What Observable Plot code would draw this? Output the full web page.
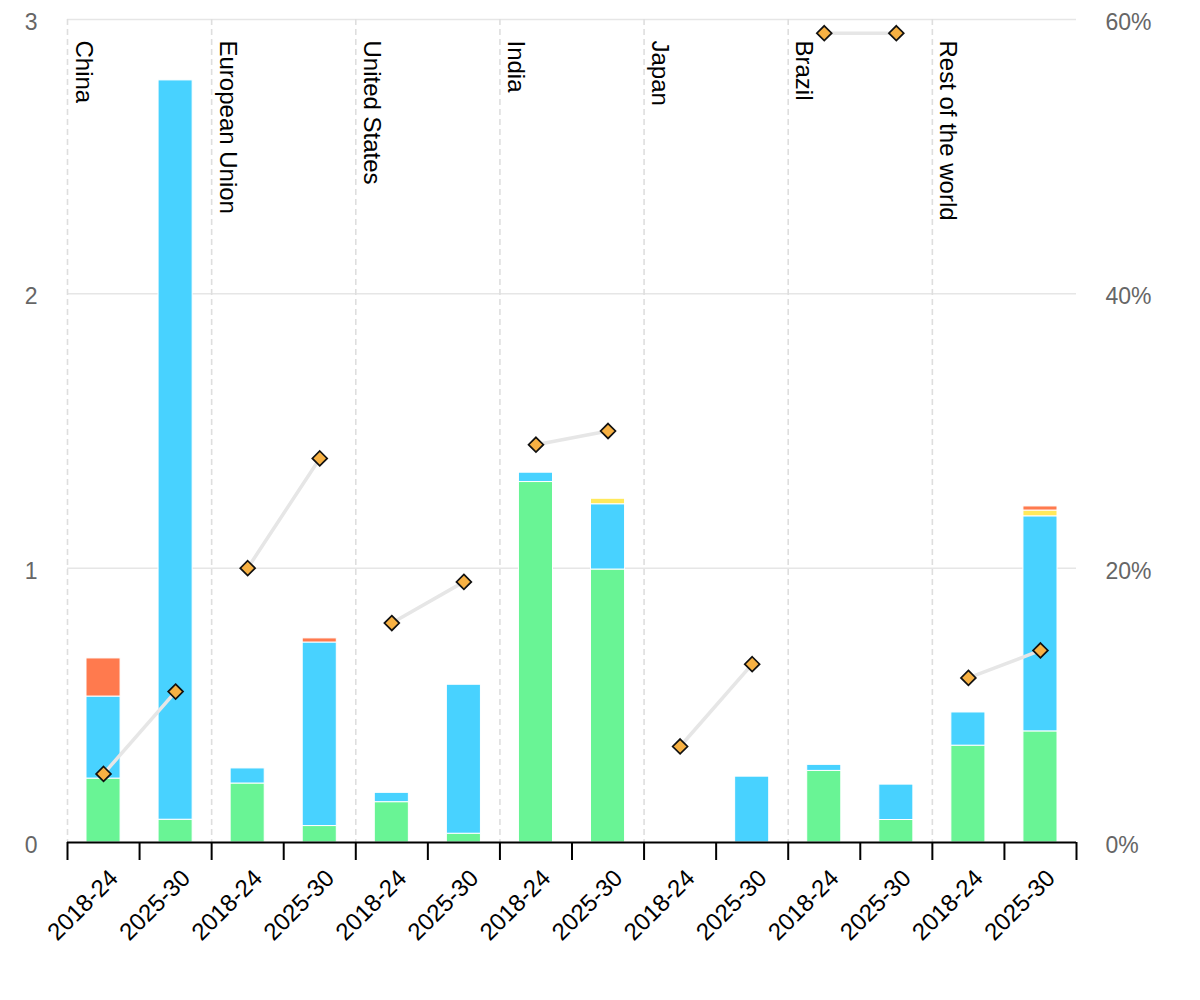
<!DOCTYPE html>
<html>
<head>
<meta charset="utf-8">
<script src="https://cdn.jsdelivr.net/npm/d3@7"></script>
<script src="https://cdn.jsdelivr.net/npm/@observablehq/plot@0.6"></script>
<style>
  html, body { margin: 0; padding: 0; background: #fff; }
  #chart { width: 1200px; height: 1000px; }
</style>
</head>
<body>
<div id="chart"></div>
<script>
// ---- data ----
const regions = ["China", "European Union", "United States", "India", "Japan", "Brazil", "Rest of the world"];
const periods = ["2018-24", "2025-30"];
const seriesNames = ["Series 1", "Series 2", "Series 3", "Series 4"];
// one value per bar: region x period, in region order
const series1 = [0.233, 0.083, 0.215, 0.060, 0.147, 0.032, 1.314, 0.995, 0, 0, 0.261, 0.082, 0.353, 0.405];
const series2 = [0.299, 2.695, 0.055, 0.669, 0.034, 0.543, 0.034, 0.238, 0, 0.240, 0.022, 0.129, 0.121, 0.784];
const series3 = [0, 0, 0, 0, 0, 0, 0, 0.020, 0, 0, 0, 0, 0, 0.021];
const series4 = [0.139, 0, 0, 0.015, 0, 0, 0, 0, 0, 0, 0, 0, 0, 0.015];
const sharePct = [5, 11, 20, 28, 16, 19, 29, 30, 7, 13, 59, 59, 12, 14];
const leftTicks = [0, 1, 2, 3];
const rightTicks = [0, 20, 40, 60];

// ---- derived tables ----
const pctPerUnit = rightTicks[rightTicks.length - 1] / leftTicks[leftTicks.length - 1];
const bars = [];
regions.forEach((r, ri) => periods.forEach((p, pi) => bars.push({region: r, period: p, i: ri * periods.length + pi})));
const allSeries = [series1, series2, series3, series4];
const stackRows = [];
bars.forEach(b => allSeries.forEach((s, si) => {
  if (s[b.i] > 0) stackRows.push({i: b.i, series: seriesNames[si], value: s[b.i]});
}));
const shareRows = bars.map(b => ({...b, pct: sharePct[b.i]}));
const groupStarts = regions.map((r, ri) => ({region: r, x: ri * periods.length}));
const boundaries = d3.range(bars.length + 1);

const font = "'Liberation Sans', Arial, Helvetica, sans-serif";

const chart = Plot.plot({
  width: 1200,
  height: 1000,
  marginLeft: 67,
  marginRight: 124,
  marginTop: 19,
  marginBottom: 158,
  style: {fontFamily: font, background: "#fff", overflow: "visible"},
  x: {domain: [0, bars.length], axis: null},
  y: {domain: [leftTicks[0], leftTicks[leftTicks.length - 1]], axis: null},
  color: {domain: seriesNames, range: ["#69f495", "#48d2ff", "#ffe95c", "#ff7a4e"]},
  marks: [
    Plot.ruleY(leftTicks.filter(t => t > 0), {stroke: "#e6e6e6", strokeWidth: 1.5}),
    Plot.ruleX(groupStarts, {x: "x", stroke: "#dedede", strokeWidth: 1.6, strokeDasharray: "6,4"}),
    Plot.rectY(stackRows, {
      x1: "i", x2: d => d.i + 1, y: "value", fill: "series", order: seriesNames,
      insetLeft: 19, insetRight: 19, stroke: "#fff", strokeWidth: 1
    }),
    Plot.line(shareRows, {x: d => d.i + 0.5, y: d => d.pct / pctPerUnit, z: "region", stroke: "#e6e6e6", strokeWidth: 3.5}),
    Plot.dot(shareRows, {x: d => d.i + 0.5, y: d => d.pct / pctPerUnit, symbol: "diamond2", r: 6.7, fill: "#f7b143", stroke: "#111", strokeWidth: 1.7}),
    Plot.text(groupStarts, {
      x: "x", text: "region", frameAnchor: "top", rotate: 90, textAnchor: "start", lineAnchor: "bottom",
      dx: 8, dy: 21, fontSize: 24, fill: "#000"
    }),
    Plot.ruleY([0], {stroke: "#000", strokeWidth: 2}),
    Plot.axisX({ticks: boundaries, tickSize: 18, tickFormat: () => "", color: "#000", strokeWidth: 2, label: null}),
    Plot.text(bars, {
      x: d => d.i + 0.5, text: "period", frameAnchor: "bottom", rotate: -45, textAnchor: "end", lineAnchor: "bottom",
      dx: 16, dy: 37, fontSize: 24, fill: "#000"
    }),
    Plot.axisY({ticks: leftTicks, anchor: "left", tickSize: 0, tickPadding: 30, fontSize: 23, color: "#666", dy: 3, label: null, tickFormat: d => String(d)}),
    Plot.axisY({ticks: rightTicks.map(v => v / pctPerUnit), anchor: "right", tickSize: 0, tickPadding: 29, fontSize: 23, color: "#666", dy: 3, label: null, tickFormat: d => Math.round(d * pctPerUnit) + "%", textAnchor: "start"})
  ]
});
document.getElementById("chart").appendChild(chart);
</script>
</body>
</html>
